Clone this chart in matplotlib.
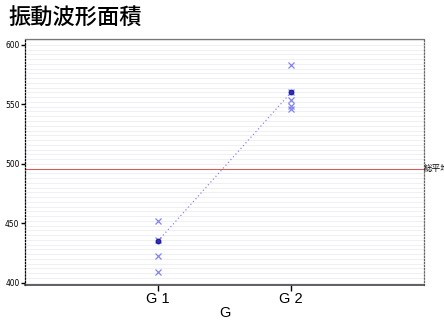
import matplotlib
matplotlib.use("Agg")
import matplotlib.pyplot as plt
import numpy as np

plt.rcParams['font.family'] = ['Noto Sans CJK JP', 'DejaVu Sans']

title = "振動波形面積"
categories = ["G 1", "G 2"]
g1_values = [452, 436, 422, 409]
g2_values = [583, 560, 554, 549, 546]
group_means = [435, 560]
grand_mean = 496
y_ticks = [400, 450, 500, 550, 600]

fig = plt.figure(figsize=(4.44, 3.22), dpi=100)
ax = fig.add_axes([25/444, 37/322, 399/444, 246/322])

# light horizontal background lines
for yv in np.arange(400, 606, 4):
    ax.axhline(yv, color='#ededf5', lw=0.6, zorder=0)

ax.axhline(grand_mean, color='#d06060', lw=0.8, zorder=1)

xs = [1, 2]
ax.plot(xs, group_means, linestyle=(0, (1, 2)), color='#8c8ce0', lw=0.9, zorder=2)
for x, vals in zip(xs, [g1_values, g2_values]):
    ax.plot([x]*len(vals), vals, linestyle='none', marker='x', ms=5, mew=0.9,
            color='#8484f0', zorder=3)
ax.plot(xs, group_means, linestyle='none', marker='o', ms=3.2, mfc='#3030c0',
        mec='#2020a0', zorder=4)

ax.set_xlim(0, 3)
ax.set_ylim(398, 605)
ax.set_xticks(xs)
ax.set_xticklabels(categories, fontsize=10.5, family=['Liberation Sans', 'DejaVu Sans'])
ax.set_yticks(y_ticks)
ax.set_yticklabels([str(v) for v in y_ticks], fontsize=6, fontstretch='condensed',
                   family=['Liberation Sans Narrow', 'DejaVu Sans'])
ax.tick_params(axis='y', length=3, width=1, pad=1, color='black')
ax.tick_params(axis='x', length=4, width=1, pad=1)
ax.set_xlabel("G", fontsize=10.5, family=['Liberation Sans', 'DejaVu Sans'], labelpad=0)

ax.spines['left'].set_linestyle((0, (1, 1.5)))
ax.spines['left'].set_linewidth(0.9)
ax.spines['right'].set_linestyle((0, (1, 1.5)))
ax.spines['right'].set_color('#666666')
ax.spines['right'].set_linewidth(0.9)
ax.spines['top'].set_color('#777777')
ax.spines['top'].set_linewidth(0.9)
ax.spines['bottom'].set_color('#444444')
ax.spines['bottom'].set_linewidth(1.2)

ax.text(3.0, grand_mean, "総平均", fontsize=6.2, va='center', ha='left', clip_on=False)
fig.text(8/444, 1 - 18/322, title, fontsize=16, fontweight='medium', va='center', ha='left')

fig.savefig("out.png", dpi=100)
